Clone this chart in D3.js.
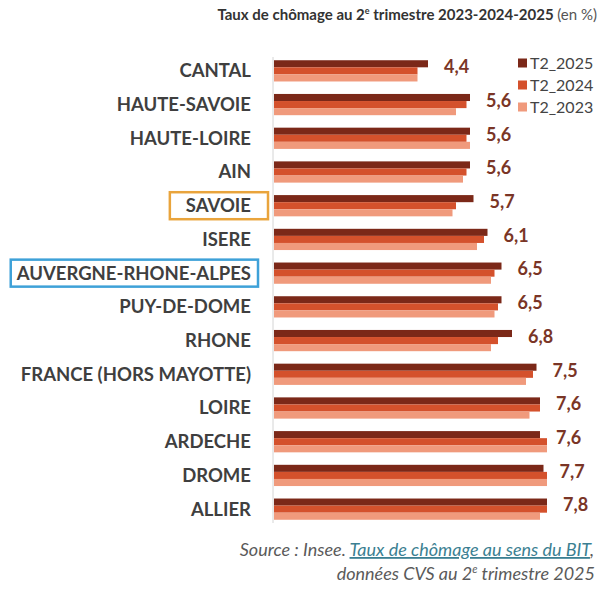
<!DOCTYPE html>
<meta charset="utf-8">
<script src="https://cdn.jsdelivr.net/npm/d3@7/dist/d3.min.js"></script>
<style>
    body { margin: 0; background: #fff; }
    text { font-family: Lato, "Open Sans", sans-serif; }
    .cat { font-weight: 700; fill: #3f3f3f; font-size: 18.5px; }
    .val { font-weight: 700; fill: #7a3526; font-size: 18px; }
    .leg { fill: #444; font-size: 16px; }
    .src { font-style: italic; fill: #5a5a5a; font-size: 18px; }
</style>
<body>
<script>

    // data (unemployment rate, %)
    var categories = ["CANTAL", "HAUTE-SAVOIE", "HAUTE-LOIRE", "AIN", "SAVOIE", "ISERE",
        "AUVERGNE-RHONE-ALPES", "PUY-DE-DOME", "RHONE", "FRANCE (HORS MAYOTTE)",
        "LOIRE", "ARDECHE", "DROME", "ALLIER"];
    var seriesNames = ["T2_2025", "T2_2024", "T2_2023"];
    var t2_2025 = [4.4, 5.6, 5.6, 5.6, 5.7, 6.1, 6.5, 6.5, 6.8, 7.5, 7.6, 7.6, 7.7, 7.8];
    var t2_2024 = [4.1, 5.5, 5.5, 5.5, 5.2, 6.0, 6.3, 6.4, 6.4, 7.4, 7.6, 7.8, 7.8, 7.8];
    var t2_2023 = [4.1, 5.2, 5.6, 5.4, 5.1, 5.8, 6.2, 6.3, 6.2, 7.2, 7.3, 7.8, 7.8, 7.6];
    var labels2025 = ["4,4", "5,6", "5,6", "5,6", "5,7", "6,1", "6,5", "6,5", "6,8", "7,5", "7,6", "7,6", "7,7", "7,8"];

    var colors = ["#7b2818", "#d4512c", "#f09a7c"];

    var width = 602,
        height = 591;

    var rows = categories.map(function (c, i) {
        return { name: c, values: [t2_2025[i], t2_2024[i], t2_2023[i]], label: labels2025[i] };
    });

    var svg = d3.select("body").append("svg")
        .attr("width", width)
        .attr("height", height);

    var x = d3.scaleLinear()
        .domain([0, 8])
        .range([274, 554]);

    var y = d3.scaleBand()
        .domain(categories)
        .range([54, 526])
        .paddingInner(0.37)
        .paddingOuter(0.185);

    var ySub = d3.scaleBand()
        .domain(seriesNames)
        .range([0, y.bandwidth()]);

    // title
    var title = svg.append("text")
        .attr("x", 597)
        .attr("y", 20)
        .attr("text-anchor", "end")
        .style("font-size", "15px")
        .style("fill", "#333");
    title.append("tspan").style("font-weight", 700).text("Taux de chômage au 2");
    title.append("tspan").style("font-weight", 700).style("font-size", "9px").attr("dy", -6).text("e");
    title.append("tspan").style("font-weight", 700).attr("dy", 6).text(" trimestre 2023-2024-2025 ");
    title.append("tspan").style("fill", "#555").text("(en %)");

    // axis line
    svg.append("line")
        .attr("x1", x(0) - 1).attr("x2", x(0) - 1)
        .attr("y1", 57).attr("y2", 523)
        .style("stroke", "#d4d4d4")
        .style("stroke-width", 1);

    // bars
    var group = svg.append("g")
        .selectAll("g")
        .data(rows)
        .enter()
        .append("g")
        .attr("transform", function (d) { return "translate(0," + y(d.name) + ")"; });

    group.selectAll("rect")
        .data(function (d) { return d.values; })
        .enter()
        .append("rect")
        .attr("x", x(0))
        .attr("y", function (d, i) { return ySub(seriesNames[i]); })
        .attr("height", ySub.bandwidth())
        .attr("width", function (d) { return x(d) - x(0); })
        .style("fill", function (d, i) { return colors[i]; });

    // value labels for 2025
    group.append("text")
        .attr("class", "val")
        .attr("x", function (d) { return x(d.values[0]) + 16; })
        .attr("y", y.bandwidth() / 2 - 4)
        .attr("dy", "0.35em")
        .text(function (d) { return d.label; });

    // category labels
    var catLabels = svg.append("g")
        .selectAll("text")
        .data(categories)
        .enter()
        .append("text")
        .attr("class", "cat")
        .attr("x", 251)
        .attr("y", function (d) { return y(d) + y.bandwidth() / 2; })
        .attr("dy", "0.35em")
        .attr("text-anchor", "end")
        .text(function (d) { return d; });

    // highlight boxes
    var boxes = [
        { name: "SAVOIE", color: "#e9a43c", padL: 16, padR: 17 },
        { name: "AUVERGNE-RHONE-ALPES", color: "#3ea1d8", padL: 5, padR: 7 }
    ];
    boxes.forEach(function (b) {
        var node = catLabels.filter(function (d) { return d === b.name; }).node();
        var bb = node.getBBox();
        var cy = y(b.name) + y.bandwidth() / 2;
        svg.append("rect")
            .attr("x", bb.x - b.padL)
            .attr("y", cy - 13.5)
            .attr("width", bb.width + b.padL + b.padR)
            .attr("height", 27)
            .style("fill", "none")
            .style("stroke", b.color)
            .style("stroke-width", 2.5);
    });

    // legend
    var legend = svg.append("g")
        .selectAll("g")
        .data(seriesNames)
        .enter()
        .append("g")
        .attr("transform", function (d, i) { return "translate(518," + (63 + i * 22) + ")"; });

    legend.append("rect")
        .attr("x", 0).attr("y", -4.5)
        .attr("width", 9).attr("height", 9)
        .style("fill", function (d, i) { return colors[i]; });

    legend.append("text")
        .attr("class", "leg")
        .attr("x", 12)
        .attr("dy", "0.35em")
        .text(function (d) { return d; });

    // source
    var src1 = svg.append("text")
        .attr("class", "src")
        .attr("x", 594)
        .attr("y", 556)
        .attr("text-anchor", "end");
    src1.append("tspan").text("Source : Insee. ");
    src1.append("tspan")
        .style("fill", "#3b7f92")
        .style("text-decoration", "underline")
        .text("Taux de chômage au sens du BIT");
    src1.append("tspan").text(",");

    var src2 = svg.append("text")
        .attr("class", "src")
        .attr("x", 595)
        .attr("y", 580)
        .attr("text-anchor", "end");
    src2.append("tspan").text("données CVS au 2");
    src2.append("tspan").style("font-size", "11px").attr("dy", -7).text("e");
    src2.append("tspan").attr("dy", 7).text(" trimestre 2025");

</script>
</body>
